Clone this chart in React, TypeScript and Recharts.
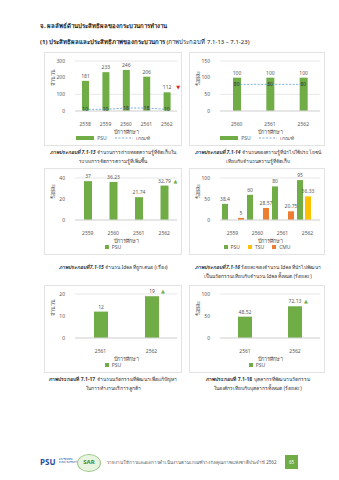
import React from 'react';
import {
    ComposedChart,
    Bar,
    Line,
    XAxis,
    YAxis,
    CartesianGrid,
    Legend,
    LabelList
} from 'recharts';

// ภาพ 7.1-13
const years13 = ['2558', '2559', '2560', '2561', '2562'];
const psu13 = [181, 233, 246, 206, 112];
const target13 = [10, 10, 18, 18, 10];

// ภาพ 7.1-14
const years14 = ['2560', '2561', '2562'];
const psu14 = [100, 100, 100];
const target14 = [80, 80, 80];

// ภาพ 7.1-15 / 7.1-16
const years15 = ['2559', '2560', '2561', '2562'];
const psu15 = [37, 36.23, 21.74, 32.79];
const psu16 = [38.4, 60, 80, 95];
const tsu16 = [null, null, null, 56.33];
const cmu16 = [5, 28.57, 20.75, null];

// ภาพ 7.1-17 / 7.1-18
const years17 = ['2561', '2562'];
const psu17 = [12, 19];
const psu18 = [48.52, 72.13];

const GREEN = '#70AD47';
const YELLOW = '#FFC000';
const ORANGE = '#ED7D31';
const BLUE = '#5B9BD5';
const TEXT = '#595959';
const FONT = '"Noto Sans", "DejaVu Sans", sans-serif';

const tickStyle = { fill: TEXT, fontSize: 5, fontFamily: FONT };

const CustomLegend = ({ payload }: any) => (
    <div style={{ display: 'flex', justifyContent: 'center', alignItems: 'center', height: 12, gap: 8, fontSize: 5, color: TEXT, fontFamily: FONT }}>
        {payload?.map((entry: any, i: number) => (
            <div key={i} style={{ display: 'flex', alignItems: 'center', gap: 3 }}>
                {entry.type === 'line' ? (
                    <svg width={18} height={4}>
                        <line x1={0} y1={2} x2={18} y2={2} stroke={entry.color} strokeWidth={0.8} strokeDasharray="2 1.5" />
                    </svg>
                ) : (
                    <div style={{ width: entry.wide ? 18 : 4, height: 4, background: entry.color }} />
                )}
                <span>{entry.value}</span>
            </div>
        ))}
    </div>
);

const topLabel = (markIndex: number, mark: string, markColor: string) => (props: any) => {
    const { x, y, width, value, index } = props;
    if (value == null) return null;
    const cx = Number(x) + Number(width) / 2;
    return (
        <g>
            <text x={cx} y={Number(y) - 3} textAnchor="middle" fontSize={5} fill={TEXT} fontFamily={FONT}>{value}</text>
            {index === markIndex && (
                <text x={cx + 11} y={Number(y) - 3} textAnchor="middle" fontSize={5} fill={markColor} fontFamily={FONT}>{mark}</text>
            )}
        </g>
    );
};

interface SeriesDef {
    key: string;
    name: string;
    color: string;
    kind: 'bar' | 'line';
}

interface PanelProps {
    left: number;
    top: number;
    width: number;
    height: number;
    data: any[];
    series: SeriesDef[];
    yLabel: string;
    domain: [number, number];
    ticks: number[];
    plotTop: number;
    barSize: number;
    mark?: { index: number; symbol: string; color: string };
    wideLegend?: boolean;
}

const Panel = ({ left, top, width, height, data, series, yLabel, domain, ticks, plotTop, barSize, mark, wideLegend }: PanelProps) => {
    const legendPayload = series.map(s => ({ value: s.name, color: s.color, type: s.kind, wide: wideLegend }));
    const chartW = width - 2;
    const chartH = height - 2;
    return (
        <div style={{ position: 'absolute', left, top, width, height, border: '1px solid #E3E3E3', boxSizing: 'border-box' }}>
            <ComposedChart
                width={chartW}
                height={chartH}
                data={data}
                margin={{ top: plotTop, right: 4, left: 0, bottom: 0 }}
                barGap={2}
            >
                <CartesianGrid vertical={false} stroke="#D9D9D9" strokeWidth={0.6} />
                <XAxis
                    dataKey="year"
                    tick={tickStyle}
                    tickLine={false}
                    axisLine={{ stroke: '#D9D9D9' }}
                    height={22}
                    tickMargin={5}
                    label={{ value: 'ปีการศึกษา', position: 'insideBottom', offset: -1, fontSize: 5.5, fill: TEXT, fontFamily: FONT }}
                />
                <YAxis
                    domain={domain}
                    ticks={ticks}
                    tick={tickStyle}
                    tickLine={false}
                    axisLine={false}
                    width={30}
                    tickMargin={4}
                    label={{ value: yLabel, angle: -90, position: 'insideLeft', offset: 8, fontSize: 5.5, fill: TEXT, fontFamily: FONT }}
                />
                <Legend
                    verticalAlign="bottom"
                    height={24}
                    wrapperStyle={{ left: 0, width: chartW, top: chartH - 13, height: 12 }}
                    content={() => <CustomLegend payload={legendPayload} />}
                />
                {series.map(s => s.kind === 'bar' ? (
                    <Bar key={s.key} dataKey={s.key} name={s.name} fill={s.color} barSize={barSize} isAnimationActive={false}
                        label={topLabel(mark && s.key === 'psu' ? mark.index : -1, mark?.symbol ?? '', mark?.color ?? GREEN)} />
                ) : (
                    <Line key={s.key} dataKey={s.key} name={s.name} type="linear" stroke={s.color} strokeWidth={0.8}
                        strokeDasharray="2 1.5" dot={false} isAnimationActive={false}>
                        <LabelList dataKey={s.key} position="center" fontSize={5} fill="#333" fontFamily={FONT} />
                    </Line>
                ))}
            </ComposedChart>
        </div>
    );
};

const Caption = ({ left, top, width, lines }: { left: number; top: number; width: number; lines: React.ReactNode[] }) => (
    <div style={{ position: 'absolute', left, top, width, textAlign: 'center', fontSize: 5, lineHeight: '9px', color: '#333', fontFamily: FONT, whiteSpace: 'nowrap' }}>
        {lines.map((l, i) => <div key={i}>{l}</div>)}
    </div>
);

export default function App() {
    const data13 = years13.map((year, i) => ({ year, psu: psu13[i], target: target13[i] }));
    const data14 = years14.map((year, i) => ({ year, psu: psu14[i], target: target14[i] }));
    const data15 = years15.map((year, i) => ({ year, psu: psu15[i] }));
    const data16 = years15.map((year, i) => ({ year, psu: psu16[i], tsu: tsu16[i], cmu: cmu16[i] }));
    const data17 = years17.map((year, i) => ({ year, psu: psu17[i] }));
    const data18 = years17.map((year, i) => ({ year, psu: psu18[i] }));

    const psuBar: SeriesDef = { key: 'psu', name: 'PSU', color: GREEN, kind: 'bar' };
    const targetLine: SeriesDef = { key: 'target', name: 'เกณฑ์', color: BLUE, kind: 'line' };

    return (
        <div style={{ position: 'absolute', left: 0, top: 0, width: 339, height: 480, background: '#fff', fontFamily: FONT, overflow: 'hidden' }}>
            <div style={{ position: 'absolute', left: 40, top: 21, fontSize: 6, fontWeight: 'bold', color: '#222' }}>
                จ. ผลลัพธ์ด้านประสิทธิผลของกระบวนการทำงาน
            </div>
            <div style={{ position: 'absolute', left: 40, top: 37, fontSize: 6, color: '#222' }}>
                <b>(1) ประสิทธิผลและประสิทธิภาพของกระบวนการ</b> (ภาพประกอบที่ 7.1-13 – 7.1-23)
            </div>

            <Panel left={44} top={52} width={138} height={94} data={data13} series={[psuBar, targetLine]}
                yLabel="จำนวน" domain={[0, 300]} ticks={[0, 100, 200, 300]} plotTop={8} barSize={7}
                mark={{ index: 4, symbol: '▼', color: '#E02020' }} wideLegend />
            <Panel left={189} top={52} width={136} height={94} data={data14} series={[psuBar, targetLine]}
                yLabel="ร้อยละ" domain={[0, 150]} ticks={[0, 50, 100, 150]} plotTop={8} barSize={8} wideLegend />

            <Caption left={40} top={148} width={146} lines={[
                <span><b><i>ภาพประกอบที่ 7.1-13</i></b> จำนวนการถ่ายทอดความรู้ที่จัดเก็บใน</span>,
                'ระบบการจัดการความรู้ที่เพิ่มขึ้น'
            ]} />
            <Caption left={185} top={148} width={146} lines={[
                <span><b><i>ภาพประกอบที่ 7.1-14</i></b> จำนวนของความรู้ที่นำไปใช้ประโยชน์</span>,
                'เทียบกับจำนวนความรู้ที่จัดเก็บ'
            ]} />

            <Panel left={44} top={168} width={138} height={87} data={data15} series={[psuBar]}
                yLabel="ร้อยละ" domain={[0, 40]} ticks={[0, 20, 40]} plotTop={9} barSize={8}
                mark={{ index: 3, symbol: '▲', color: GREEN }} />
            <Panel left={189} top={168} width={136} height={87} data={data16}
                series={[psuBar, { key: 'tsu', name: 'TSU', color: YELLOW, kind: 'bar' }, { key: 'cmu', name: 'CMU', color: ORANGE, kind: 'bar' }]}
                yLabel="ร้อยละ" domain={[0, 100]} ticks={[0, 50, 100]} plotTop={9} barSize={6} />

            <Caption left={40} top={263} width={146} lines={[
                <span><b><i>ภาพประกอบที่ 7.1-15</i></b> จำนวน Idea ที่ถูกเสนอ (เรื่อง)</span>
            ]} />
            <Caption left={185} top={263} width={146} lines={[
                <span><b><i>ภาพประกอบที่ 7.1-16</i></b> ร้อยละของจำนวน Idea ที่นำไปพัฒนา</span>,
                'เป็นนวัตกรรมเทียบกับจำนวน Idea ทั้งหมด (ร้อยละ)'
            ]} />

            <Panel left={44} top={285} width={138} height={88} data={data17} series={[psuBar]}
                yLabel="จำนวน" domain={[0, 20]} ticks={[0, 10, 20]} plotTop={8} barSize={14}
                mark={{ index: 1, symbol: '▲', color: GREEN }} />
            <Panel left={189} top={285} width={136} height={88} data={data18} series={[psuBar]}
                yLabel="ร้อยละ" domain={[0, 100]} ticks={[0, 50, 100]} plotTop={8} barSize={14}
                mark={{ index: 1, symbol: '▲', color: GREEN }} />

            <Caption left={40} top={375} width={146} lines={[
                <span><b>ภาพประกอบที่ 7.1-17</b> จำนวนนวัตกรรมที่พัฒนาเพื่อแก้ปัญหา</span>,
                'ในการทำงานบริการลูกค้า'
            ]} />
            <Caption left={185} top={375} width={146} lines={[
                <span><b>ภาพประกอบที่ 7.1-18</b> บุคลากรที่พัฒนานวัตกรรม</span>,
                'ในองค์กรเทียบกับบุคลากรทั้งหมด (ร้อยละ)'
            ]} />

            {/* footer */}
            <div style={{ position: 'absolute', left: 40, top: 456, fontSize: 8, fontWeight: 'bold', color: '#1F4E9C' }}>PSU</div>
            <div style={{ position: 'absolute', left: 59, top: 458, fontSize: 2.5, lineHeight: '3px', color: '#1F4E9C' }}>
                มหาวิทยาลัย<br />สงขลานครินทร์
            </div>
            <div style={{ position: 'absolute', left: 77, top: 454, width: 22, height: 16, borderRadius: '50%', background: '#E8F3E0', border: '0.5px solid #9BC98A' }}>
                <div style={{ fontSize: 6, fontWeight: 'bold', color: '#3C8D2F', textAlign: 'center', marginTop: 3 }}>SAR</div>
            </div>
            <div style={{ position: 'absolute', left: 107, top: 459, fontSize: 4.5, color: '#555' }}>
                รายงานวิธีการและผลการดำเนินงานตามเกณฑ์รางวัลคุณภาพแห่งชาติประจำปี 2562
            </div>
            <div style={{ position: 'absolute', left: 285, top: 455, width: 13, height: 14, background: GREEN, color: '#fff', fontSize: 4.5, textAlign: 'center', lineHeight: '14px' }}>
                65
            </div>
        </div>
    );
}
